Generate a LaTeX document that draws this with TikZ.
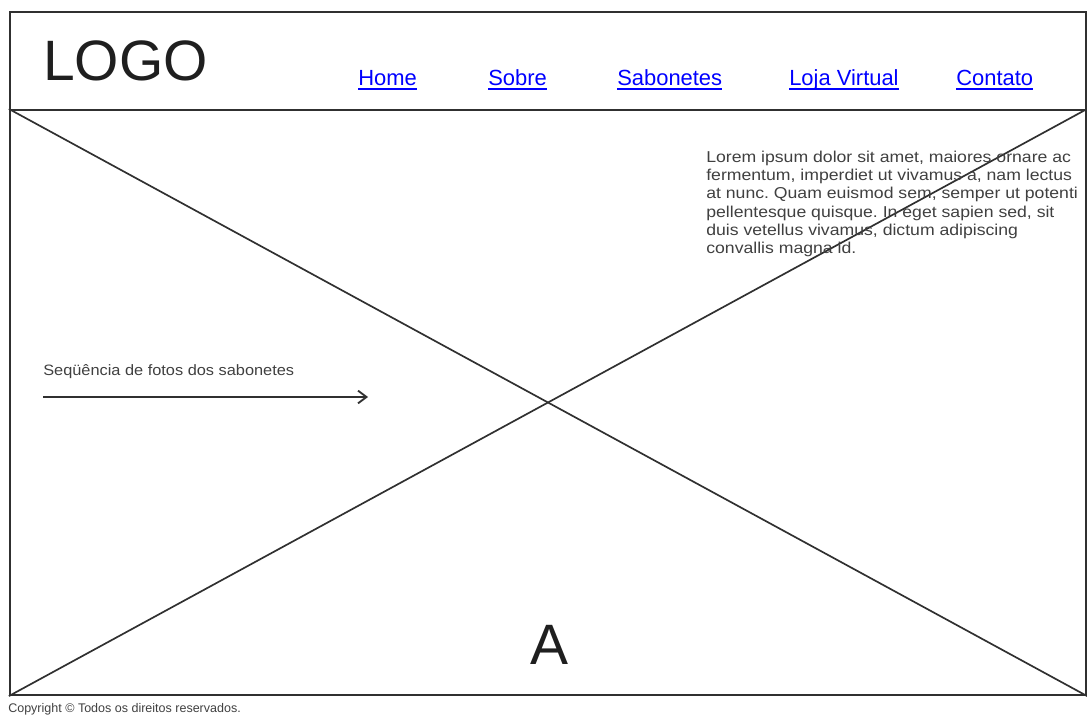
\documentclass[tikz,border=0pt]{standalone}
\usepackage{fontspec}
\setmainfont{Liberation Sans}
\usepackage{tikz}
\usetikzlibrary{arrows.meta, positioning}
\definecolor{wireline}{RGB}{48, 48, 48}
\definecolor{wiretext}{RGB}{64, 64, 64}
\definecolor{linkblue}{RGB}{0, 0, 255}
\frenchspacing

\begin{document}
\begin{tikzpicture}[x=0.025cm, y=-0.025cm,
    frame/.style={draw=wireline, line width=1.4pt, minimum width=26.9cm, inner sep=0pt},
    navlink/.style={anchor=base west, inner sep=0pt, text=linkblue, font=\fontsize{15.6}{18}\selectfont},
    bigtext/.style={inner sep=0pt, text=black!88, font=\fontsize{40.5}{44}\selectfont},
    bodytext/.style={inner sep=0pt, text=wiretext, align=left, xscale=1.12, transform shape}]
        \useasboundingbox (0,0) rectangle (1087,715);
        % Header and content area
        \node[frame, minimum height=2.45cm] (header) at (548,61) {};
        \node[frame, minimum height=14.625cm] (content) at (548,402.5) {};
        % Placeholder cross
        \draw[wireline, line width=1.2pt] (content.north west) -- (content.south east);
        \draw[wireline, line width=1.2pt] (content.south west) -- (content.north east);
        % Logo
        \node[bigtext, anchor=base west] (logo) at (43,81) {LOGO};
        % Menu
        \foreach \xpos/\name/\label in {358/home/Home, 488/sobre/Sobre, 617/sabonetes/Sabonetes, 789/loja/Loja Virtual, 956/contato/Contato} {
            \node[navlink] (\name) at (\xpos,86) {\label};
            \draw[linkblue, line width=0.9pt] ([yshift=-2.2pt]\name.base west) -- ([yshift=-2.2pt]\name.base east);
        }
        % Text block
        \node[bodytext, anchor=north west, font=\fontsize{11.2}{12.9}\selectfont] (lorem) at (706,151) {Lorem ipsum dolor sit amet, maiores ornare ac\\fermentum, imperdiet ut vivamus a, nam lectus\\at nunc. Quam euismod sem, semper ut potenti\\pellentesque quisque. In eget sapien sed, sit\\duis vetellus vivamus, dictum adipiscing\\convallis magna id.};
        % Photo sequence
        \node[bodytext, anchor=base west, xscale=0.97, font=\fontsize{10.7}{12}\selectfont] (fotos) at (43,376) {Seqüência de fotos dos sabonetes};
        \coordinate (seqstart) at (43,397);
        \coordinate (seqend) at (368,397);
        \draw[-{Straight Barb[length=6pt, width=9pt]}, wireline, line width=1.3pt] (seqstart) -- (seqend);
        % Marker
        \node[bigtext, anchor=base] (marker) at (549,664) {A};
        % Footer
        \node[anchor=base west, inner sep=0pt, text=wiretext, font=\fontsize{8.9}{10}\selectfont] (copy) at (8,712) {Copyright © Todos os direitos reservados.};
    \end{tikzpicture}
\end{document}
